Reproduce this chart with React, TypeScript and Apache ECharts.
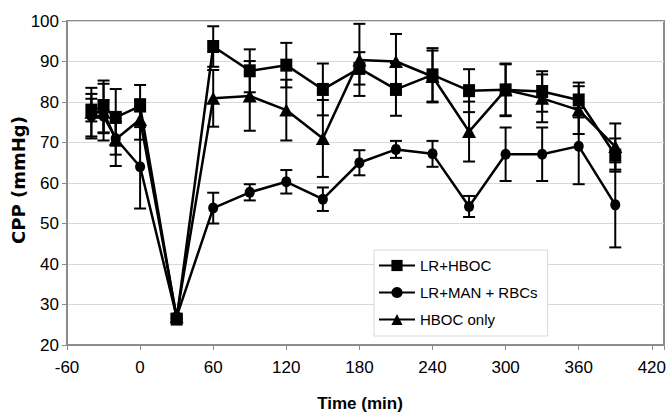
import React, { useEffect, useRef } from "react";
import * as echarts from "echarts";

// Time points (min)
const times = [-40, -30, -20, 0, 30, 60, 90, 120, 150, 180, 210, 240, 270, 300, 330, 360, 390];

// LR+HBOC (squares)
const hbocMean = [78, 78.8, 76.2, 79, 26.4, 93.7, 87.7, 89.1, 83.1, 88.3, 83.1, 86.7, 82.8, 83, 82.6, 80.5, 66.9];
const hbocErr = [2.8, 6.5, 7, 5.2, 0.5, 5, 5.3, 5.5, 6.4, 4, 6.5, 6.6, 5.3, 6.3, 5, 4.3, 4.1];

// LR+MAN + RBCs (circles)
const manMean = [76.5, 76.5, 71, 64, 27, 53.8, 57.7, 60.3, 56, 65, 68.3, 67.2, 54.2, 67.1, 67.1, 69.1, 54.6];
const manErr = [5.5, 4, 4, 10.3, 0.5, 3.8, 2, 2.9, 2.9, 3.1, 2.1, 3.2, 2.6, 6.6, 6.6, 9.4, 10.5];

// HBOC only (triangles)
const onlyMean = [77.5, 77.5, 70.8, 75.7, 27, 80.9, 81.5, 78, 71, 90.4, 90, 86.3, 72.7, 83, 80.9, 78, 69];
const onlyErr = [6, 7, 6.6, 5, 0.5, 7, 8.6, 7.5, 9.5, 8.9, 6.8, 6.4, 7.4, 6.5, 5.9, 5.9, 5.7];

const seriesNames = ["LR+HBOC", "LR+MAN + RBCs", "HBOC only"];
const yTitle = "CPP (mmHg)";
const xTitle = "Time (min)";

const FONT = '"Liberation Sans", Arial, sans-serif';

function lineData(mean: number[]) {
  return times.map((t, i) => [t, mean[i]]);
}
function errData(mean: number[], err: number[]) {
  return times.map((t, i) => [t, mean[i] - err[i], mean[i] + err[i]]);
}

function errorSeries(mean: number[], err: number[]) {
  return {
    type: "custom",
    silent: true,
    z: 3,
    data: errData(mean, err),
    encode: { x: 0, y: [1, 2] },
    renderItem: (params: any, api: any) => {
      const x = api.value(0);
      const lo = api.coord([x, api.value(1)]);
      const hi = api.coord([x, api.value(2)]);
      const w = 6;
      const style = { stroke: "#000", lineWidth: 2 };
      return {
        type: "group",
        children: [
          { type: "line", shape: { x1: lo[0], y1: lo[1], x2: hi[0], y2: hi[1] }, style },
          { type: "line", shape: { x1: lo[0] - w, y1: lo[1], x2: lo[0] + w, y2: lo[1] }, style },
          { type: "line", shape: { x1: hi[0] - w, y1: hi[1], x2: hi[0] + w, y2: hi[1] }, style },
        ],
      };
    },
  };
}

function lineSeries(name: string, mean: number[], symbol: string, size: any) {
  return {
    type: "line",
    name,
    data: lineData(mean),
    symbol,
    symbolSize: size,
    showAllSymbol: true,
    z: 4,
    lineStyle: { color: "#000", width: 2.5 },
    itemStyle: { color: "#000", borderColor: "#000", borderWidth: 0 },
  };
}

export default function App() {
  const ref = useRef<HTMLDivElement>(null);
  useEffect(() => {
    if (!ref.current) return;
    const chart = echarts.init(ref.current, null, { renderer: "svg" });
    const axisGray = "#8c8c8c";
    chart.setOption({
      animation: false,
      backgroundColor: "#fff",
      grid: {
        left: 67,
        right: 3,
        top: 21,
        bottom: 74,
        show: true,
        borderColor: axisGray,
        borderWidth: 2,
        backgroundColor: "transparent",
      },
      xAxis: {
        type: "value",
        min: -60,
        max: 430,
        interval: 60,
        axisLine: { show: true, onZero: false, lineStyle: { color: axisGray, width: 2 } },
        axisTick: { show: true, length: 5, lineStyle: { color: axisGray, width: 1 } },
        splitLine: { show: false },
        axisLabel: {
          margin: 14,
          fontFamily: FONT,
          fontSize: 17,
          color: "#000",
          formatter: (v: number) => (v % 60 === 0 ? String(v) : ""),
        },
      },
      yAxis: {
        type: "value",
        min: 20,
        max: 100,
        interval: 10,
        axisLine: { show: true, onZero: false, lineStyle: { color: axisGray, width: 2 } },
        axisTick: { show: true, length: 5, lineStyle: { color: axisGray, width: 1 } },
        splitLine: { show: true, lineStyle: { color: "#d9d9d9", width: 1 } },
        axisLabel: { margin: 8, fontFamily: FONT, fontSize: 17, color: "#000" },
      },
      legend: {
        data: seriesNames,
        orient: "vertical",
        left: 374,
        top: 250,
        padding: [8, 10, 9, 4],
        itemGap: 12,
        itemWidth: 36,
        itemHeight: 14,
        backgroundColor: "#fff",
        borderColor: "#d9d9d9",
        borderWidth: 1,
        textStyle: { fontFamily: FONT, fontSize: 15, color: "#000" },
      },
      graphic: [
        {
          type: "text",
          x: 18,
          y: 180,
          rotation: Math.PI / 2,
          style: {
            text: yTitle,
            fontFamily: '"DejaVu Sans", sans-serif',
            fontWeight: "bold",
            fontSize: 18,
            fill: "#000",
            align: "center",
            verticalAlign: "middle",
          },
        },
        {
          type: "text",
          x: 360,
          y: 403,
          style: {
            text: xTitle,
            fontFamily: FONT,
            fontWeight: "bold",
            fontSize: 17,
            fill: "#000",
            align: "center",
            verticalAlign: "middle",
          },
        },
      ],
      series: [
        errorSeries(hbocMean, hbocErr),
        errorSeries(manMean, manErr),
        errorSeries(onlyMean, onlyErr),
        lineSeries(seriesNames[0], hbocMean, "rect", [12, 13]),
        lineSeries(seriesNames[1], manMean, "circle", [10, 11]),
        lineSeries(seriesNames[2], onlyMean, "triangle", [14, 13]),
      ],
    });
    return () => chart.dispose();
  }, []);
  return <div ref={ref} style={{ width: 669, height: 419, position: "absolute", left: 0, top: 0 }} />;
}
